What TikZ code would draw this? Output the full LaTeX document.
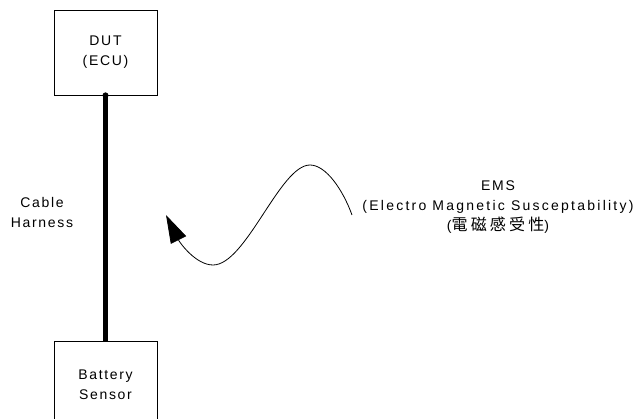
\documentclass[tikz,border=0pt]{standalone}
\usepackage{fontspec}
\setmainfont{Liberation Sans}[LetterSpace=12]
\newfontfamily\widefont{Liberation Sans}[LetterSpace=16]
\newfontfamily\cjk{Noto Sans CJK JP}[LetterSpace=20]
\usepackage{tikz}
\usetikzlibrary{arrows.meta,positioning}
\tikzset{
  unitbox/.style={draw=black, line width=0.8pt, minimum width=103pt, minimum height=85pt,
                  align=center, inner sep=0pt, font=\fontsize{14}{20}\selectfont},
  lbl/.style={align=center, inner sep=0pt, font=\fontsize{14}{20}\selectfont},
  harness/.style={line width=5.5pt, black},
  wave/.style={line width=0.8pt, -{Triangle[length=28pt,width=17pt]}}
}

\begin{document}
\begin{tikzpicture}[x=1pt, y=-1pt]
\clip (0,0) rectangle (638,419);
% boxes
\node[unitbox] (dut) at (105.5,52.5) {DUT\\(ECU)};
\node[unitbox, below=246pt of dut] (sensor) {Battery\\Sensor};
% cable between them
\draw[harness] (dut.south) -- (sensor.north);
\fill (dut.south) circle (3pt);
\node[lbl] (cable) at (42,212) {Cable\\Harness};
% noise source
\node[lbl] (ems) at (498,207) {EMS\\{\widefont(Electro Magnetic Susceptability)}\\({\cjk\fontsize{16}{20}\selectfont 電磁感受性})};
\draw[wave] (352,215) .. controls (343,190) and (326,165) .. (310,165)
   .. controls (280,165) and (246,265) .. (213,265)
   .. controls (196,265) and (180,243) .. (166,215);
\end{tikzpicture}
\end{document}
